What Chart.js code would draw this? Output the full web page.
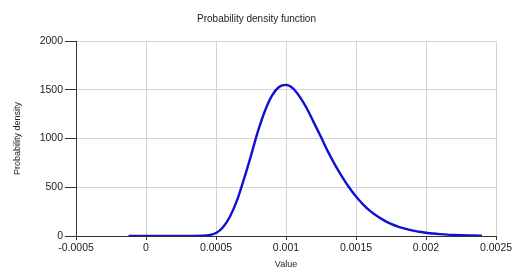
<!DOCTYPE html>
<html>
<head>
<meta charset="utf-8">
<script src="https://cdn.jsdelivr.net/npm/chart.js@4/dist/chart.umd.min.js"></script>
<style>
html,body{margin:0;padding:0;background:#fff;}
#wrap{width:513px;height:271px;}
</style>
</head>
<body>
<div id="wrap"><canvas id="c" width="513" height="271"></canvas></div>
<script>
const chartTitle = 'Probability density function';
const xAxisTitle = 'Value';
const yAxisTitle = 'Probability density';

const xValues = [-0.000125, -0.0001, -0.00005, 0, 0.00005, 0.0001, 0.00015, 0.0002, 0.00025, 0.0003,
  0.00035, 0.0004, 0.00045, 0.0005, 0.00055, 0.0006, 0.00065, 0.0007, 0.00075, 0.0008,
  0.00085, 0.0009, 0.00095, 0.001, 0.00105, 0.0011, 0.00115, 0.0012, 0.00125, 0.0013,
  0.00135, 0.0014, 0.00145, 0.0015, 0.00155, 0.0016, 0.00165, 0.0017, 0.00175, 0.0018,
  0.00185, 0.0019, 0.00195, 0.002, 0.00205, 0.0021, 0.00215, 0.0022, 0.00225, 0.0023,
  0.00235, 0.0024];
const densityValues = [0, 0, 0, 0, 0, 0, 0, 0, 0, 0,
  0.2, 2, 9, 30, 90, 200, 365, 585, 825, 1075,
  1285, 1440, 1528, 1550, 1515, 1425, 1305, 1160, 1015, 865,
  730, 610, 500, 405, 325, 258, 205, 160, 125, 97,
  75, 57, 44, 33, 25, 19, 14, 10.7, 8, 6,
  4.5, 3.4];

const xTickLabels = ['-0.0005', '0', '0.0005', '0.001', '0.0015', '0.002', '0.0025'];
const yTickLabels = ['0', '500', '1000', '1500', '2000'];

const points = xValues.map((x, i) => ({x: x, y: densityValues[i]}));
const FONT = "'Liberation Sans', Arial, sans-serif";

new Chart(document.getElementById('c'), {
  type: 'line',
  data: {
    datasets: [{
      data: points,
      borderColor: '#1010d2',
      borderWidth: 2.4,
      pointRadius: 0,
      fill: false,
      cubicInterpolationMode: 'monotone'
    }]
  },
  options: {
    responsive: false,
    animation: false,
    devicePixelRatio: 1,
    layout: {padding: {left: 0, right: 0, top: 0, bottom: 0}},
    plugins: {
      legend: {display: false},
      tooltip: {enabled: false},
      title: {
        display: true,
        text: chartTitle,
        color: '#222',
        font: {family: FONT, size: 10, weight: 'normal'},
        padding: {top: 13, bottom: 16}
      }
    },
    scales: {
      x: {
        type: 'linear',
        min: -0.0005,
        max: 0.0025,
        afterFit: (s) => { s.height = 35; s.paddingRight = 17; s.paddingLeft = 0; },
        afterBuildTicks: (s) => { s.ticks = xTickLabels.map((t, i) => ({value: -0.0005 + i * 0.0005})); },
        ticks: {
          color: '#222',
          font: {family: FONT, size: 10.5},
          padding: 2,
          maxRotation: 0,
          autoSkip: false,
          callback: (v, i) => xTickLabels[i]
        },
        grid: {color: '#d4d4d4', lineWidth: 1, tickLength: 4, tickColor: '#333'},
        border: {color: '#333', width: 1},
        title: {
          display: true,
          text: xAxisTitle,
          color: '#222',
          font: {family: FONT, size: 9},
          padding: {top: 0, bottom: 1}
        }
      },
      y: {
        type: 'linear',
        min: 0,
        max: 2000,
        afterFit: (s) => { s.width = 76; },
        afterBuildTicks: (s) => { s.ticks = yTickLabels.map((t, i) => ({value: i * 500})); },
        ticks: {
          color: '#222',
          font: {family: FONT, size: 10.5},
          padding: 2,
          autoSkip: false,
          callback: (v, i) => yTickLabels[i]
        },
        grid: {color: '#d4d4d4', lineWidth: 1, tickLength: 11, tickColor: '#333'},
        border: {color: '#333', width: 1},
        title: {
          display: true,
          text: yAxisTitle,
          color: '#222',
          font: {family: FONT, size: 9},
          padding: {top: 12, bottom: 0}
        }
      }
    }
  }
});
</script>
</body>
</html>
